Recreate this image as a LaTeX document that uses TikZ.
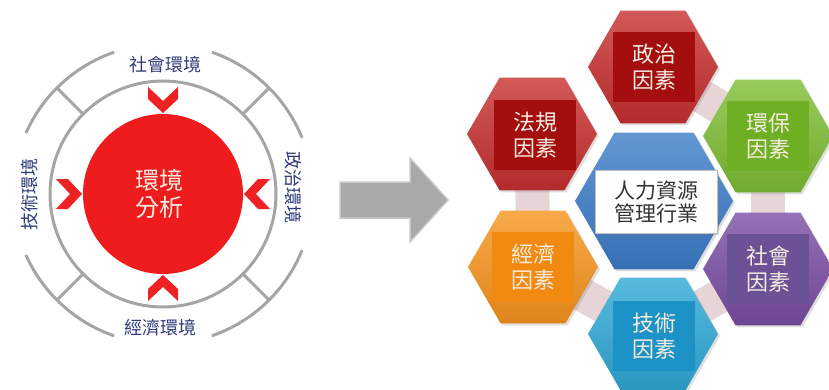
\documentclass[tikz,border=0pt]{standalone}
\usepackage{fontspec}
\setmainfont{Noto Sans CJK TC}
\usetikzlibrary{shapes.geometric,shadows,backgrounds}

\definecolor{ringgray}{HTML}{A5A5A5}
\definecolor{labelnavy}{HTML}{2F3A7A}
\definecolor{diskred}{HTML}{EE1C1C}
\definecolor{chevred}{HTML}{EE2222}
\definecolor{textcream}{HTML}{F6EDE2}
\definecolor{arrowgray}{HTML}{A9A9A9}
\definecolor{arrowrim}{HTML}{C8C8C8}
\definecolor{redhex}{HTML}{C7302F}
\definecolor{redbox}{HTML}{A50E0E}
\definecolor{greenhex}{HTML}{7DBE33}
\definecolor{greenbox}{HTML}{6FAF24}
\definecolor{orangehex}{HTML}{F7941D}
\definecolor{orangebox}{HTML}{F28A12}
\definecolor{purplehex}{HTML}{7A4EA4}
\definecolor{purplebox}{HTML}{6B5196}
\definecolor{cyanhex}{HTML}{2FA8D6}
\definecolor{cyanbox}{HTML}{1D92C6}
\definecolor{bluehex}{HTML}{3C7CC8}
\definecolor{bandpink}{HTML}{E6D4D6}

\begin{document}
\begin{tikzpicture}[x=1pt,y=1pt,
  ring/.style={draw=ringgray,line width=3pt},
  envlabel/.style={text=labelnavy,font=\fontsize{18}{18}\selectfont,inner sep=0pt},
  chevron/.style={fill=chevred},
  factor/.style={regular polygon,regular polygon sides=6,minimum size=130pt,inner sep=0pt,
    top color=#1!80!white,bottom color=#1!90!black,
    drop shadow={opacity=0.25,shadow xshift=2pt,shadow yshift=-2pt}},
  factor box/.style={rectangle,fill=#1,minimum width=82pt,minimum height=70pt,inner sep=0pt,
    align=center,text=textcream,font=\fontsize{22}{26}\selectfont},
  band/.style={draw=bandpink,line width=34pt}]

  \useasboundingbox (0,0) rectangle (829,389);

  % environment analysis
  \coordinate (c) at (163,195);
  \fill[diskred] (c) circle (80pt);
  \draw[ring] (c) circle (113pt);
  \foreach \a/\b in {22/71,109/156,204/251,289/338}
    \draw[ring] ([shift={(\a:150pt)}]c) arc[start angle=\a,end angle=\b,radius=150pt];
  \foreach \a in {45,135,225,315}
    \draw[ring] ([shift={(\a:113pt)}]c) -- ([shift={(\a:150pt)}]c);
  \foreach \a in {0,90,180,270}
    \fill[chevron,shift={(c)},rotate=\a] (81,0) -- (95,-15) -- (107,-15) -- (93,0)
      -- (107,15) -- (95,15) -- cycle;

  \node[text=textcream,font=\fontsize{24}{27}\selectfont,align=center] (disk) at (159,195) {環境\\分析};
  \node[envlabel] (top) at (165,324) {社會環境};
  \node[envlabel,rotate=90] (left) at (30,195) {技術環境};
  \node[envlabel,rotate=-90] (right) at (293,202) {政治環境};
  \node[envlabel] (bottom) at (160,61) {經濟環境};

  % arrow
  \filldraw[fill=arrowgray,draw=arrowrim,line width=1.5pt]
    (340,171) -- (410,171) -- (410,147) -- (448,189) -- (410,231) -- (410,207) -- (340,207) -- cycle;

  % factors
  \node[factor=bluehex,minimum size=158pt] (0) at (654,188) {};
  \node[factor=redhex] (1) at (653,322) {};
  \node[factor=greenhex] (2) at (768,253) {};
  \node[factor=purplehex] (3) at (768,120) {};
  \node[factor=cyanhex] (4) at (653,55) {};
  \node[factor=orangehex] (5) at (533,122) {};
  \node[factor=redhex] (6) at (532,255) {};

  \node[rectangle,fill=white,draw=gray!50,minimum width=122pt,minimum height=63pt,align=center,
    text=black!80,font=\fontsize{21}{23}\selectfont,
    drop shadow={opacity=0.3,shadow xshift=1.5pt,shadow yshift=-1.5pt}] (0b) at (656,187) {人力資源\\管理行業};
  \node[factor box=redbox] (1b) at (654,322) {政治\\因素};
  \node[factor box=greenbox] (2b) at (768,253) {環保\\因素};
  \node[factor box=purplebox] (3b) at (768,120) {社會\\因素};
  \node[factor box=cyanbox] (4b) at (654,53) {技術\\因素};
  \node[factor box=orangebox] (5b) at (533,122) {經濟\\因素};
  \node[factor box=redbox] (6b) at (535,254) {法規\\因素};

  \begin{pgfonlayer}{background}
    \path[band] (1.center) edge (2.center)
                (2.center) edge (3.center)
                (3.center) edge (4.center)
                (4.center) edge (5.center)
                (5.center) edge (6.center);
  \end{pgfonlayer}
\end{tikzpicture}
\end{document}
